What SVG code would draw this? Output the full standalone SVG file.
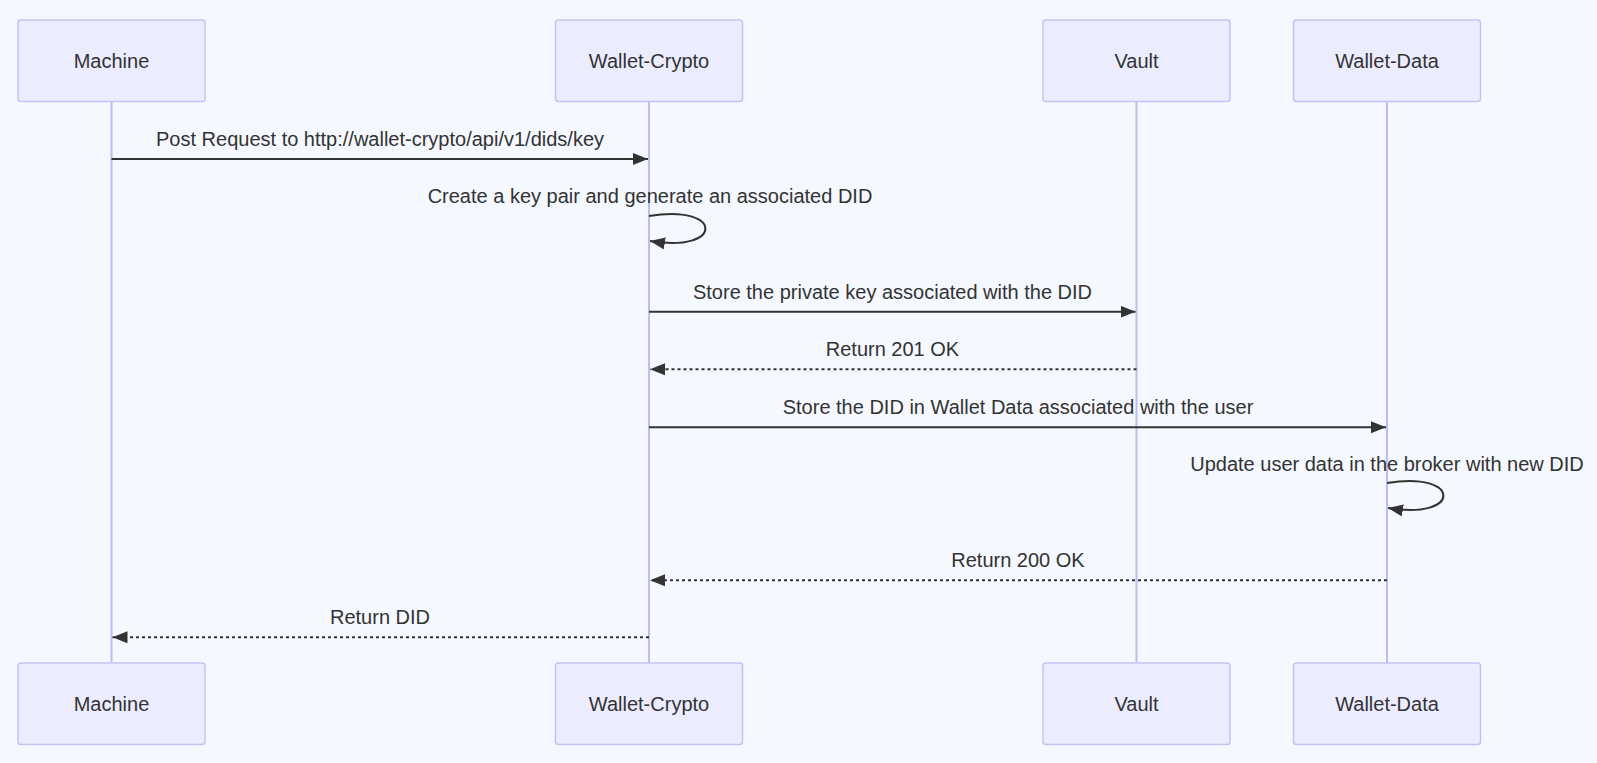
<svg xmlns="http://www.w3.org/2000/svg" width="1597" height="763" viewBox="0 0 1597 763">
<style>
.actor{fill:#ECECFF;stroke:#C3C3F3;stroke-width:1.5}
.atext{font-family:"Liberation Sans",Arial,sans-serif;font-size:20px;fill:#333;text-anchor:middle;dominant-baseline:central}
.life{stroke:#BCBCF6;stroke-width:2}
.msg{stroke:#333;stroke-width:2;fill:none}
.dash{stroke-dasharray:3,3}
.mtext{font-family:"Liberation Sans",Arial,sans-serif;font-size:20px;fill:#333;text-anchor:middle}
</style>
<defs>
<marker id="arrow" markerUnits="userSpaceOnUse" markerWidth="16" markerHeight="13" refX="15" refY="6" orient="auto">
<path d="M0,0 L15,6 L0,12 z" fill="#333"/>
</marker>
</defs>
<rect width="1597" height="763" fill="#F5F8FE"/>
<g id="lifelines">
<line class="life" x1="111.5" y1="101.5" x2="111.5" y2="663"/>
<line class="life" x1="649" y1="101.5" x2="649" y2="663"/>
<line class="life" x1="1136.5" y1="101.5" x2="1136.5" y2="663"/>
<line class="life" x1="1387" y1="101.5" x2="1387" y2="663"/>
</g>
<g id="machine-top"><rect class="actor" x="18" y="20" width="187" height="81.5" rx="3"/><text class="atext" x="111.5" y="61">Machine</text></g>
<g id="walletcrypto-top"><rect class="actor" x="555.5" y="20" width="187" height="81.5" rx="3"/><text class="atext" x="649" y="61">Wallet-Crypto</text></g>
<g id="vault-top"><rect class="actor" x="1043" y="20" width="187" height="81.5" rx="3"/><text class="atext" x="1136.5" y="61">Vault</text></g>
<g id="walletdata-top"><rect class="actor" x="1293.5" y="20" width="187" height="81.5" rx="3"/><text class="atext" x="1387" y="61">Wallet-Data</text></g>
<g id="machine-bottom"><rect class="actor" x="18" y="663" width="187" height="81.5" rx="3"/><text class="atext" x="111.5" y="704">Machine</text></g>
<g id="walletcrypto-bottom"><rect class="actor" x="555.5" y="663" width="187" height="81.5" rx="3"/><text class="atext" x="649" y="704">Wallet-Crypto</text></g>
<g id="vault-bottom"><rect class="actor" x="1043" y="663" width="187" height="81.5" rx="3"/><text class="atext" x="1136.5" y="704">Vault</text></g>
<g id="walletdata-bottom"><rect class="actor" x="1293.5" y="663" width="187" height="81.5" rx="3"/><text class="atext" x="1387" y="704">Wallet-Data</text></g>
<g id="connectors">
<line class="msg" x1="111.5" y1="159" x2="648" y2="159" marker-end="url(#arrow)"/>
<text class="mtext" x="380" y="146">Post Request to http://wallet-crypto/api/v1/dids/key</text>
<path class="msg" d="M649,216 C724,203.5 724,253.5 650,241" marker-end="url(#arrow)"/>
<text class="mtext" x="650" y="203">Create a key pair and generate an associated DID</text>
<line class="msg" x1="649" y1="311.7" x2="1135.5" y2="311.7" marker-end="url(#arrow)"/>
<text class="mtext" x="892.5" y="298.7">Store the private key associated with the DID</text>
<line class="msg dash" x1="1136.5" y1="369.3" x2="650" y2="369.3" marker-end="url(#arrow)"/>
<text class="mtext" x="892.5" y="356.3">Return 201 OK</text>
<line class="msg" x1="649" y1="427.3" x2="1386" y2="427.3" marker-end="url(#arrow)"/>
<text class="mtext" x="1018" y="414.3">Store the DID in Wallet Data associated with the user</text>
<path class="msg" d="M1387,483 C1462,470.5 1462,520.5 1388,508" marker-end="url(#arrow)"/>
<text class="mtext" x="1387" y="470.5">Update user data in the broker with new DID</text>
<line class="msg dash" x1="1387" y1="580.3" x2="650" y2="580.3" marker-end="url(#arrow)"/>
<text class="mtext" x="1018" y="567.3">Return 200 OK</text>
<line class="msg dash" x1="649" y1="637.3" x2="112.5" y2="637.3" marker-end="url(#arrow)"/>
<text class="mtext" x="380" y="624.3">Return DID</text>
</g>
</svg>
